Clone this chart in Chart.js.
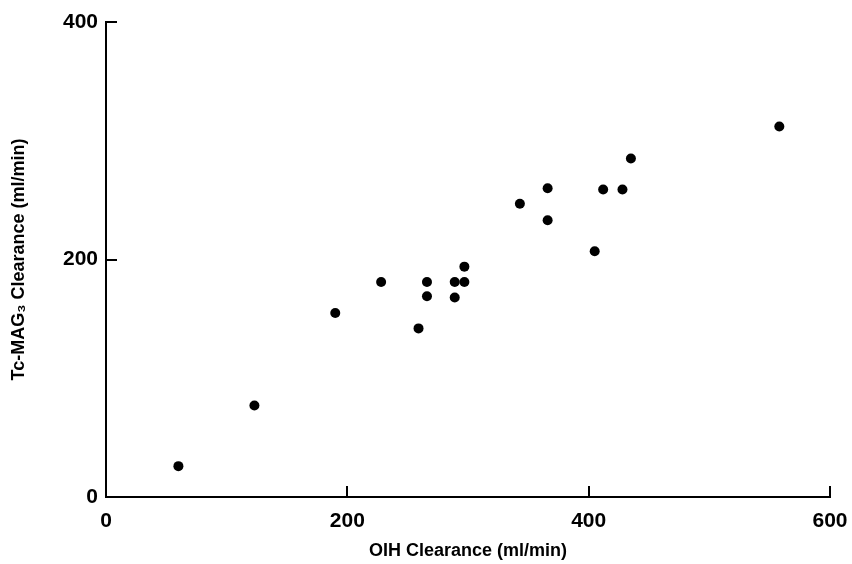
<!DOCTYPE html>
<html>
<head>
<meta charset="utf-8">
<script src="https://cdn.jsdelivr.net/npm/chart.js@4"></script>
<style>
html,body{margin:0;padding:0;background:#fff;}
#wrap{width:852px;height:564px;}
</style>
</head>
<body>
<div id="wrap"><canvas id="c" width="852" height="564"></canvas></div>
<script>
// OIH clearance (x, ml/min) vs Tc-MAG3 clearance (y, ml/min)
const oihClearance = [60, 123, 190, 228, 259, 266, 266, 289, 297, 289, 297, 343, 366, 366, 405, 412, 428, 435, 558];
const mag3Clearance = [26, 77, 155, 181, 142, 181, 169, 181, 181, 168, 194, 247, 260, 233, 207, 259, 259, 285, 312];
const xTicks = [0, 200, 400, 600];
const yTicks = [0, 200, 400];
const xTitle = 'OIH Clearance (ml/min)';
const yTitle = 'Tc-MAG\u2083 Clearance (ml/min)';

const points = oihClearance.map((x, i) => ({x: x, y: mag3Clearance[i]}));

const insideTicks = {
  id: 'insideTicks',
  afterDraw(chart) {
    const ctx = chart.ctx;
    const xs = chart.scales.x, ys = chart.scales.y;
    ctx.save();
    ctx.strokeStyle = '#000';
    ctx.lineWidth = 2;
    xTicks.forEach(v => {
      if (v === 0) return;
      const px = Math.round(xs.getPixelForValue(v));
      ctx.beginPath();
      ctx.moveTo(px, ys.bottom);
      ctx.lineTo(px, ys.bottom - 11);
      ctx.stroke();
    });
    yTicks.forEach(v => {
      if (v === 0) return;
      const py = Math.round(ys.getPixelForValue(v));
      ctx.beginPath();
      ctx.moveTo(xs.left, py);
      ctx.lineTo(xs.left + 11, py);
      ctx.stroke();
    });
    ctx.restore();
  }
};

const tickFont = {family: 'Liberation Sans', size: 21, weight: 'bold'};
const titleFont = {family: 'Liberation Sans', size: 18, weight: 'bold'};

new Chart(document.getElementById('c'), {
  type: 'scatter',
  data: {
    datasets: [{
      data: points,
      backgroundColor: '#000',
      borderColor: '#000',
      pointRadius: 5,
      pointHoverRadius: 5,
      borderWidth: 0
    }]
  },
  options: {
    responsive: false,
    animation: false,
    events: [],
    layout: {padding: {top: 22, right: 22, left: 0, bottom: 0}},
    plugins: {legend: {display: false}, tooltip: {enabled: false}},
    scales: {
      x: {
        type: 'linear',
        min: 0, max: 600,
        afterBuildTicks: s => { s.ticks = xTicks.map(v => ({value: v})); },
        afterFit: s => { s.height = 67; s.paddingLeft = 0; s.paddingRight = 0; },
        grid: {display: true, drawOnChartArea: false, drawTicks: false},
        border: {display: true, color: '#000', width: 2},
        ticks: {color: '#000', padding: 12, font: tickFont, maxRotation: 0},
        title: {display: true, text: xTitle, color: '#000', padding: {top: 2, bottom: 2}, font: titleFont}
      },
      y: {
        type: 'linear',
        min: 0, max: 400,
        afterBuildTicks: s => { s.ticks = yTicks.map(v => ({value: v})); },
        afterFit: s => { s.width = 106; s.paddingTop = 0; s.paddingBottom = 0; },
        grid: {display: true, drawOnChartArea: false, drawTicks: false},
        border: {display: true, color: '#000', width: 2},
        ticks: {color: '#000', padding: 8, font: tickFont},
        title: {display: true, text: yTitle, color: '#000', padding: {top: 8, bottom: 2}, font: titleFont}
      }
    }
  },
  plugins: [insideTicks]
});
</script>
</body>
</html>
